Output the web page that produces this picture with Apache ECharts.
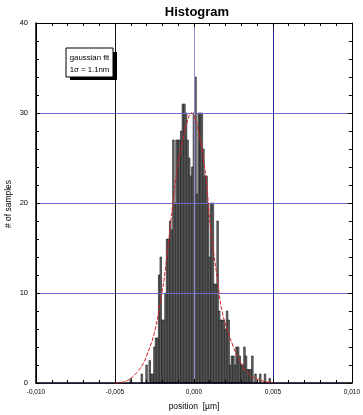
<!DOCTYPE html>
<html><head><meta charset="utf-8">
<script src="https://cdn.jsdelivr.net/npm/echarts@6/dist/echarts.min.js"></script>
<style>html,body{margin:0;padding:0;background:#fff}#c{width:363px;height:415px}</style>
</head><body><div id="c"></div>
<script>
// Histogram bins (position in µm) and sample counts
const binCenters = [
 -0.0040,-0.0039,-0.0038,-0.0037,-0.0036,-0.0035,-0.0034,-0.0033,-0.0032,-0.0031,
 -0.0030,-0.0029,-0.0028,-0.0027,-0.0026,-0.0025,-0.0024,-0.0023,-0.0022,-0.0021,
 -0.0020,-0.0019,-0.0018,-0.0017,-0.0016,-0.0015,-0.0014,-0.0013,-0.0012,-0.0011,
 -0.0010,-0.0009,-0.0008,-0.0007,-0.0006,-0.0005,-0.0004,-0.0003,-0.0002,-0.0001,
  0.0000, 0.0001, 0.0002, 0.0003, 0.0004, 0.0005, 0.0006, 0.0007, 0.0008, 0.0009,
  0.0010, 0.0011, 0.0012, 0.0013, 0.0014, 0.0015, 0.0016, 0.0017, 0.0018, 0.0019,
  0.0020, 0.0021, 0.0022, 0.0023, 0.0024, 0.0025, 0.0026, 0.0027, 0.0028, 0.0029,
  0.0030, 0.0031, 0.0032, 0.0033, 0.0034, 0.0035, 0.0036, 0.0037, 0.0038, 0.0039,
  0.0040, 0.0041, 0.0042, 0.0043, 0.0044, 0.0045, 0.0046, 0.0047, 0.0048
];
const counts = [
  0.5, 0, 0, 0, 0, 0, 0, 1, 0, 0,
  2, 0, 2.5, 1, 1, 4, 5, 5, 12, 14,
  7, 7, 10, 16, 16, 18, 17, 27, 20, 27,
  27, 27, 28, 31, 31, 30, 27, 25, 23, 24,
  30, 34, 21, 30, 30, 30, 26, 23, 23, 20,
  14, 20, 20, 11, 11, 18, 8, 7, 7, 7,
  6, 8, 7, 2, 3, 3, 2, 4, 4, 3,
  2, 2, 4, 3, 1.5, 1.5, 1.5, 3, 0, 1,
  0, 0, 1, 0, 0, 1, 0, 0, 0.5
];
const binWidth = 0.0001;

// Gaussian fit curve
const fitX = [-0.0050,-0.0045,-0.0042,-0.0040,-0.0035,-0.0032,-0.0030,-0.0025,-0.0020,-0.0019,-0.00165,-0.0012,-0.0010,-0.0007,-0.0005,-0.00015,0.0000,0.0004,0.0008,0.00095,0.0012,0.0015,0.0018,0.0025,0.0030,0.0034,0.0042,0.0050];
const fitY = [0.0,0.1,0.3,0.5,1.4,2.2,3.0,5.6,10.3,11.4,15.0,22.0,24.3,27.0,28.6,30.0,29.8,27.0,22.3,19.0,15.1,11.4,7.8,4.0,2.2,1.1,0.3,0.05];

// Tick labels
const xTickValues = [-0.010,-0.005,0.000,0.005,0.010];
const xTickLabels = ['-0,010','-0,005','0,000','0,005','0,010'];
const yTickLabels = ['0','10','20','30','40'];

const FONT = 'Liberation Sans, Arial, Helvetica, sans-serif';
const chart = echarts.init(document.getElementById('c'), null, {renderer:'canvas'});

const barData = binCenters.map((x,i)=>[x, counts[i]]).filter(d=>d[1]>0);
const fitData = fitX.map((x,i)=>[x, fitY[i]]);

function xFmt(v){
  for (let i=0;i<xTickValues.length;i++) if (Math.abs(v-xTickValues[i])<1e-9) return xTickLabels[i];
  return '';
}
function yFmt(v){ return yTickLabels[Math.round(v/10)] || ''; }

const tickCommon = {inside:true, length:4, lineStyle:{color:'#000', width:1}};
const minorCommon = {show:true, splitNumber:5, length:3, lineStyle:{color:'#000', width:1}};

chart.setOption({
  animation:false,
  backgroundColor:'#fff',
  grid:{left:36, right:11, top:23, bottom:32, containLabel:false},
  xAxis:[{
    type:'value', min:-0.010, max:0.010, interval:0.005, position:'bottom',
    axisLine:{show:true, onZero:false, lineStyle:{color:'#000', width:1.5}},
    axisTick:tickCommon, minorTick:minorCommon,
    axisLabel:{fontSize:6.5, color:'#000', fontFamily:FONT, margin:6, formatter:xFmt},
    splitLine:{show:true, lineStyle:{color:['#000','#111','#8c8cd8','#26269a','#000'], width:1}}
  },{
    type:'value', min:-0.010, max:0.010, interval:0.005, position:'top',
    axisLine:{show:true, onZero:false, lineStyle:{color:'#000', width:1}},
    axisTick:tickCommon, minorTick:minorCommon,
    axisLabel:{show:false}, splitLine:{show:false}
  }],
  yAxis:[{
    type:'value', min:0, max:40, interval:10, position:'left',
    axisLine:{show:true, onZero:false, lineStyle:{color:'#000', width:1.5}},
    axisTick:tickCommon, minorTick:minorCommon,
    axisLabel:{fontSize:7.5, color:'#000', fontFamily:FONT, margin:8, formatter:yFmt},
    splitLine:{show:true, lineStyle:{color:'#6a6ad0', width:1}}
  },{
    type:'value', min:0, max:40, interval:10, position:'right',
    axisLine:{show:true, onZero:false, lineStyle:{color:'#000', width:1}},
    axisTick:tickCommon, minorTick:minorCommon,
    axisLabel:{show:false}, splitLine:{show:false}
  }],
  series:[{
    type:'custom', xAxisIndex:0, yAxisIndex:0, z:-1,
    data:barData,
    renderItem:function(params, api){
      const x = api.value(0), y = api.value(1);
      const p0 = api.coord([x - binWidth/2, y]);
      const p1 = api.coord([x + binWidth/2, 0]);
      return {type:'rect', shape:{x:p0[0], y:p0[1], width:p1[0]-p0[0], height:p1[1]-p0[1]},
        style:{fill:'#727272', stroke:'#111', lineWidth:0.6}};
    }
  },{
    type:'line', xAxisIndex:0, yAxisIndex:0, z:5,
    data:fitData, smooth:0.4, showSymbol:false, symbol:'none',
    lineStyle:{color:'#d42020', width:1, type:[4,1.5]}
  }],
  graphic:[
    {type:'text', z:10, style:{x:197, y:12, text:'Histogram', fontFamily:FONT, fontSize:13, fontWeight:'bold', fill:'#000', textAlign:'center', textVerticalAlign:'middle'}},
    {type:'text', z:10, style:{x:194, y:407, text:'position  [µm]', fontFamily:FONT, fontSize:8.5, fill:'#000', textAlign:'center', textVerticalAlign:'middle'}},
    {type:'text', z:10, x:9, y:204, rotation:Math.PI/2, style:{x:0, y:0, text:'# of samples', fontFamily:FONT, fontSize:8.5, fill:'#000', textAlign:'center', textVerticalAlign:'middle'}},
    {type:'rect', z:10, shape:{x:70, y:52, width:47, height:28}, style:{fill:'#000'}},
    {type:'rect', z:11, shape:{x:66, y:48, width:47, height:29}, style:{fill:'#fff', stroke:'#000', lineWidth:1}},
    {type:'text', z:12, style:{x:89.5, y:58, text:'gaussian fit', fontFamily:FONT, fontSize:7.8, fill:'#000', textAlign:'center', textVerticalAlign:'middle'}},
    {type:'text', z:12, style:{x:89.5, y:70, text:'1σ = 1.1nm', fontFamily:FONT, fontSize:7.8, fill:'#000', textAlign:'center', textVerticalAlign:'middle'}}
  ]
});
</script></body></html>
